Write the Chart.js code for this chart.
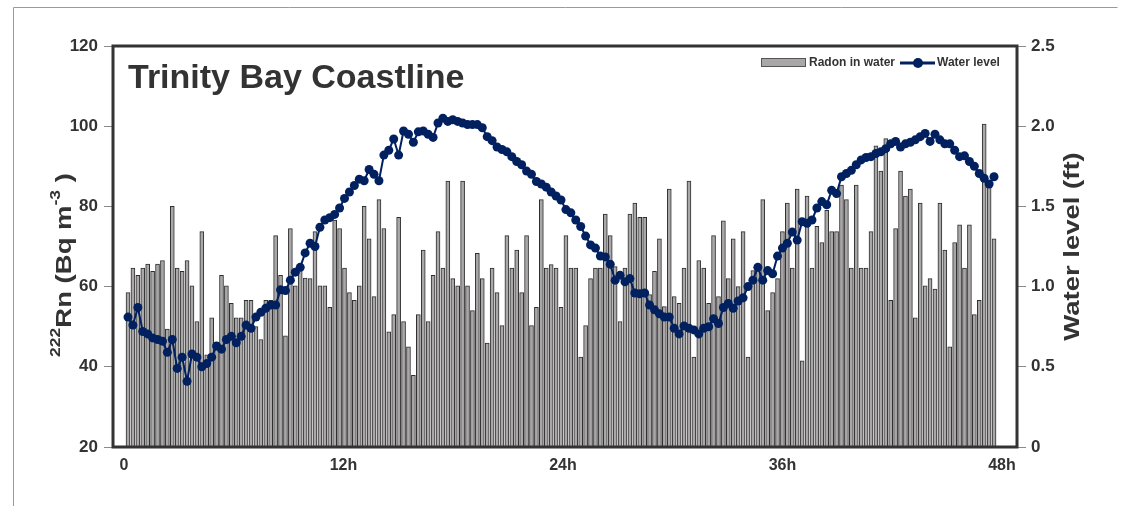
<!DOCTYPE html>
<html>
<head>
<meta charset="utf-8">
<script src="https://cdn.jsdelivr.net/npm/chart.js@4/dist/chart.umd.min.js"></script>
<style>
    html, body { margin: 0; padding: 0; background: #fff; }
    #grafico { display: block; }
</style>
</head>
<body>
<canvas id="grafico" width="1123" height="506"></canvas>
<script>
// radon em agua (Bq m-3), uma leitura a cada ~16 min
var radonNaAgua = [
    58.5, 64.6, 62.8, 64.6, 65.6, 63.8, 65.6, 66.5, 49.4, 80.0,
    64.6, 63.8, 66.5, 60.2, 51.3, 73.7, 43.0, 52.2, 45.0, 62.8,
    60.2, 55.8, 52.2, 52.2, 56.6, 56.6, 50.0, 46.8, 56.6, 56.6,
    72.7, 62.8, 47.7, 74.5, 60.2, 64.1, 62.1, 62.0, 73.7, 60.2,
    60.2, 54.8, 76.6, 74.5, 64.6, 58.5, 56.6, 60.2, 80.0, 71.9,
    57.5, 81.7, 74.5, 48.7, 53.0, 77.3, 51.3, 45.0, 37.9, 53.0,
    69.1, 51.3, 62.8, 73.7, 64.6, 86.3, 62.0, 60.2, 86.3, 60.2,
    54.0, 68.3, 62.0, 45.9, 64.6, 58.5, 50.3, 72.7, 64.6, 69.1,
    58.5, 72.7, 50.3, 54.8, 81.7, 64.6, 65.5, 64.6, 54.8, 72.7,
    64.6, 64.6, 42.4, 50.3, 62.0, 64.6, 64.6, 78.1, 72.7, 65.0,
    51.3, 64.6, 78.1, 80.8, 77.3, 77.3, 58.0, 63.8, 71.9, 55.0,
    84.3, 57.5, 55.8, 64.6, 86.3, 42.4, 66.5, 64.6, 55.8, 72.7,
    57.5, 76.4, 62.0, 71.9, 60.0, 73.7, 42.4, 64.0, 64.6, 81.7,
    54.0, 58.5, 62.0, 73.7, 80.8, 64.6, 84.3, 41.5, 82.6, 64.6,
    75.0, 71.0, 79.0, 73.7, 73.7, 85.3, 81.7, 64.6, 85.3, 64.6,
    64.6, 73.7, 95.1, 88.8, 96.9, 56.6, 74.5, 88.8, 82.6, 84.3,
    52.2, 80.8, 60.2, 62.0, 59.4, 80.8, 69.1, 45.0, 71.0, 75.4,
    64.6, 75.4, 53.0, 56.6, 100.5, 86.0, 71.9
];

// nivel da agua (ft), mesmas leituras
var nivelDaAgua = [
    0.81, 0.76, 0.87, 0.72, 0.705, 0.68, 0.67, 0.66, 0.59, 0.67,
    0.49, 0.56, 0.41, 0.58, 0.56, 0.50, 0.52, 0.56, 0.63, 0.61,
    0.67, 0.69, 0.65, 0.69, 0.76, 0.74, 0.81, 0.84, 0.865, 0.885,
    0.885, 0.98, 0.975, 1.04, 1.09, 1.12, 1.21, 1.27, 1.25, 1.37,
    1.415, 1.43, 1.45, 1.49, 1.55, 1.59, 1.63, 1.67, 1.66, 1.73,
    1.70, 1.66, 1.82, 1.85, 1.92, 1.82, 1.97, 1.95, 1.90, 1.965,
    1.97, 1.95, 1.93, 2.02, 2.05, 2.03, 2.04, 2.03, 2.02, 2.01,
    2.01, 2.01, 1.99, 1.935, 1.91, 1.87, 1.855, 1.84, 1.81, 1.78,
    1.76, 1.72, 1.70, 1.655, 1.64, 1.62, 1.59, 1.565, 1.54, 1.48,
    1.46, 1.415, 1.375, 1.315, 1.26, 1.24, 1.19, 1.185, 1.14, 1.04,
    1.07, 1.03, 1.05, 0.96, 0.955, 0.96, 0.885, 0.855, 0.83, 0.81,
    0.81, 0.74, 0.705, 0.755, 0.74, 0.73, 0.705, 0.74, 0.75, 0.80,
    0.77, 0.87, 0.895, 0.865, 0.91, 0.93, 1.00, 1.04, 1.12, 1.04,
    1.10, 1.08, 1.19, 1.24, 1.27, 1.34, 1.29, 1.405, 1.395, 1.415,
    1.49, 1.53, 1.51, 1.60, 1.58, 1.685, 1.705, 1.725, 1.76, 1.79,
    1.805, 1.81, 1.83, 1.84, 1.86, 1.89, 1.905, 1.87, 1.89, 1.90,
    1.915, 1.935, 1.955, 1.905, 1.95, 1.915, 1.89, 1.89, 1.85, 1.81,
    1.815, 1.78, 1.75, 1.705, 1.675, 1.64, 1.685
];

var horasTicks = [0, 12, 24, 36, 48];
var primeiraLeitura = 0.22;   // h
var intervalo = 0.269;        // h entre leituras

var titulo = 'Trinity Bay Coastline';
var tituloDireita = 'Water level (ft)';

var corTexto = '#333333';
var corLinha = '#00205f';
var fonte = '"Liberation Sans", Arial, Helvetica, sans-serif';

function montarPontos(valores) {
    return valores.map(function (v, i) {
        return { x: primeiraLeitura + i * intervalo, y: v };
    });
}

Chart.defaults.font.family = fonte;
Chart.defaults.color = corTexto;

// texto girado, esticado no sentido da leitura
function textoVertical(ctx, partes, cx, cy, estica) {
    var total = 0;
    partes.forEach(function (p) {
        ctx.font = p.font;
        p.w = ctx.measureText(p.t).width;
        total += p.w;
    });
    ctx.save();
    ctx.translate(cx, cy);
    ctx.rotate(-Math.PI / 2);
    ctx.scale(estica, 1);
    ctx.textAlign = 'left';
    ctx.textBaseline = 'middle';
    var x = -total / 2;
    partes.forEach(function (p) {
        ctx.font = p.font;
        ctx.fillText(p.t, x, p.dy || 0);
        x += p.w;
    });
    ctx.restore();
}

var moldura = {
    id: 'moldura',
    beforeDraw: function (chart) {
        var ctx = chart.ctx;
        ctx.save();
        ctx.fillStyle = '#fff';
        ctx.fillRect(0, 0, chart.width, chart.height);
        ctx.strokeStyle = '#9a9a9a';
        ctx.lineWidth = 1;
        ctx.beginPath();
        ctx.moveTo(13.5, chart.height);
        ctx.lineTo(13.5, 7.5);
        ctx.lineTo(1117.5, 7.5);
        ctx.stroke();
        ctx.restore();
    },
    afterDatasetsDraw: function (chart) {
        var ctx = chart.ctx, a = chart.chartArea;
        ctx.save();
        ctx.strokeStyle = '#333';
        ctx.lineWidth = 3;
        ctx.strokeRect(a.left, a.top, a.right - a.left, a.bottom - a.top);
        ctx.restore();
    },
    afterDraw: function (chart) {
        var ctx = chart.ctx, a = chart.chartArea;
        var ds = chart.data.datasets;
        ctx.save();

        // titulo dentro do grafico
        ctx.fillStyle = corTexto;
        ctx.font = 'bold 34px ' + fonte;
        ctx.textBaseline = 'alphabetic';
        ctx.textAlign = 'left';
        ctx.fillText(titulo, a.left + 15, 88);

        // legenda
        ctx.font = 'bold 12px ' + fonte;
        ctx.textBaseline = 'middle';
        ctx.fillStyle = '#a9a7a7';
        ctx.fillRect(761, 58, 45, 9);
        ctx.strokeStyle = '#555';
        ctx.lineWidth = 1;
        ctx.strokeRect(761.5, 58.5, 44, 8);
        ctx.fillStyle = corTexto;
        ctx.fillText(ds[1].label, 809, 63);
        ctx.strokeStyle = corLinha;
        ctx.lineWidth = 3;
        ctx.beginPath();
        ctx.moveTo(900, 63);
        ctx.lineTo(935, 63);
        ctx.stroke();
        ctx.fillStyle = corLinha;
        ctx.beginPath();
        ctx.arc(918, 63, 5, 0, Math.PI * 2);
        ctx.fill();
        ctx.fillStyle = corTexto;
        ctx.fillText(ds[0].label, 937, 63);

        // titulos dos eixos
        var fGrande = 'bold 22px ' + fonte, fPequena = 'bold 14px ' + fonte;
        textoVertical(ctx, [{ t: tituloDireita, font: fGrande }], 1073, (a.top + a.bottom) / 2, 1.25);
        textoVertical(ctx, [
            { t: '222', font: fPequena, dy: -9 },
            { t: 'Rn (Bq m', font: fGrande },
            { t: '-3', font: fPequena, dy: -9 },
            { t: ' )', font: fGrande }
        ], 65, 265, 1.25);

        ctx.restore();
    }
};

new Chart(document.getElementById('grafico'), {
    type: 'bar',
    data: {
        datasets: [
            {
                type: 'line',
                label: 'Water level',
                data: montarPontos(nivelDaAgua),
                yAxisID: 'y1',
                borderColor: corLinha,
                backgroundColor: corLinha,
                borderWidth: 2,
                pointRadius: 4.5,
                pointBorderWidth: 0,
                pointBackgroundColor: corLinha,
                tension: 0,
                order: 0
            },
            {
                type: 'bar',
                label: 'Radon in water',
                data: montarPontos(radonNaAgua),
                yAxisID: 'y',
                backgroundColor: '#a9a7a7',
                borderColor: '#2e2e2e',
                borderWidth: 1,
                barThickness: 4,
                order: 1
            }
        ]
    },
    options: {
        responsive: false,
        animation: false,
        devicePixelRatio: 1,
        layout: { padding: { top: 46, left: 0, right: 0, bottom: 0 } },
        plugins: {
            legend: { display: false },
            tooltip: { enabled: false }
        },
        scales: {
            x: {
                type: 'linear',
                offset: false,
                min: -0.6,
                max: 48.82,
                afterBuildTicks: function (s) {
                    s.ticks = horasTicks.map(function (v) { return { value: v }; });
                },
                afterFit: function (s) { s.height = 59; },
                ticks: {
                    callback: function (v) { return v === 0 ? '0' : v + 'h'; },
                    font: { size: 16, weight: 'bold' },
                    color: corTexto,
                    padding: 1,
                    maxRotation: 0,
                    autoSkip: false
                },
                grid: { display: false },
                border: { display: false }
            },
            y: {
                position: 'left',
                min: 20,
                max: 120,
                afterFit: function (s) { s.width = 113; },
                ticks: {
                    stepSize: 20,
                    font: { size: 17, weight: 'bold' },
                    color: corTexto,
                    padding: 6
                },
                grid: { drawOnChartArea: false, drawTicks: true, tickLength: 9, color: '#8a8a8a' },
                border: { display: false }
            },
            y1: {
                position: 'right',
                min: 0,
                max: 2.5,
                afterFit: function (s) { s.width = 106; },
                ticks: {
                    stepSize: 0.5,
                    font: { size: 17, weight: 'bold' },
                    color: corTexto,
                    padding: 5
                },
                grid: { drawOnChartArea: false, drawTicks: true, tickLength: 9, color: '#8a8a8a' },
                border: { display: false }
            }
        }
    },
    plugins: [moldura]
});
</script>
</body>
</html>
